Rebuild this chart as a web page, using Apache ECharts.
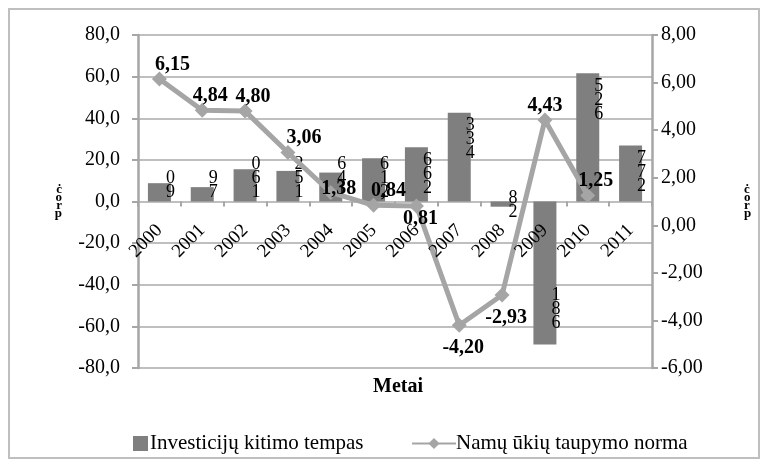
<!DOCTYPE html>
<html>
<head>
<meta charset="utf-8">
<script src="https://cdn.jsdelivr.net/npm/echarts@6/dist/echarts.min.js"></script>
<style>
  html, body { margin: 0; padding: 0; background: #fff; }
  #chart { width: 768px; height: 468px; }
</style>
</head>
<body>
<div id="chart"></div>
<script>
// Years on the category axis
const years = ['2000', '2001', '2002', '2003', '2004', '2005', '2006', '2007', '2008', '2009', '2010', '2011'];
// Investment change rate, % (left axis)
const investmentRate = [8.8, 6.9, 15.5, 14.7, 13.9, 20.8, 26.1, 42.7, -2.5, -68.7, 61.6, 26.9];
// Text printed beside each bar
const investmentLabels = ['0\n9', '9\n7', '0\n6\n1', '2\n5\n1', '6\n4\n1', '6\n1\n2', '6\n6\n2', '3\n3\n4', '8\n2', '1\n8\n6', '5\n2\n6', '7\n7\n2'];
// Household saving ratio, % (right axis); no value for 2011
const savingRate = [6.15, 4.84, 4.80, 3.06, 1.38, 0.84, 0.81, -4.20, -2.93, 4.43, 1.25, null];
// Axis ranges
const leftAxis = { min: -80, max: 80, step: 20 };
const rightAxis = { min: -6, max: 8, step: 2 };

const serif = '"Liberation Serif", "Times New Roman", serif';
const barColor = '#7F7F7F';
const lineColor = '#A5A5A5';
const axisGray = '#A6A6A6';
const gridGray = '#BFBFBF';
const procName = 'ċ\no\nr\np';

// Plot box
const gridTop = 35;
const gridBottom = 100;
const plotHeight = 468 - gridTop - gridBottom;
const pxPerUnit = plotHeight / (leftAxis.max - leftAxis.min);
// Lift the category axis from the bottom edge up to the left axis zero
const zeroLift = (0 - leftAxis.min) * pxPerUnit;

const barData = investmentRate.map((v, i) => {
  const h = Math.abs(v) * pxPerUnit;
  let label;
  if (v >= 0) {
    label = h >= 50
      ? { position: 'insideTop', distance: 6 }
      : { position: 'insideBottom', distance: 2 };
  } else {
    label = h >= 50
      ? { position: 'insideBottom', distance: 14 }
      : { position: 'insideTop', distance: -10 };
  }
  label.formatter = investmentLabels[i];
  return { value: v, label };
});

// Saving-ratio labels that sit under their point, and small per-year nudges
const labelBelow = ['2006', '2007', '2008'];
const labelNudge = {
  '2000': [5, 0], '2003': [8, 0], '2004': [0, 11], '2005': [7, 0],
  '2006': [0, -10], '2009': [-8, 0]
};
const lineData = savingRate.map((v, i) => {
  if (v === null) return null;
  const below = labelBelow.indexOf(years[i]) >= 0;
  const n = labelNudge[years[i]] || [0, 0];
  return {
    value: v,
    label: below
      ? { position: 'bottom', distance: 5, offset: [4 + n[0], n[1]] }
      : { position: 'top', distance: -3, offset: [8 + n[0], n[1]] }
  };
});

const fmt = (d) => (v) => v.toFixed(d).replace('.', ',');

const chart = echarts.init(document.getElementById('chart'), null, { renderer: 'canvas' });
chart.setOption({
  animation: false,
  backgroundColor: '#fff',
  textStyle: { fontFamily: serif },
  grid: { left: 138, right: 116, top: gridTop, bottom: gridBottom, containLabel: false },
  title: {
    text: 'Metai',
    left: 393,
    top: 372,
    textAlign: 'center',
    textStyle: { fontFamily: serif, fontSize: 20, fontWeight: 'bold', color: '#000' }
  },
  legend: [
    {
      data: ['Investicijų kitimo tempas'],
      left: 128, top: 428,
      icon: 'rect', itemWidth: 15, itemHeight: 15, itemGap: 0,
      textStyle: { fontFamily: serif, fontSize: 21, color: '#000', padding: [0, 0, 0, -3] }
    },
    {
      data: ['Namų ūkių taupymo norma'],
      left: 406, top: 428,
      itemWidth: 44, itemHeight: 14,
      textStyle: { fontFamily: serif, fontSize: 21, color: '#000', padding: [0, 0, 0, -5] }
    }
  ],
  xAxis: {
    type: 'category',
    data: years,
    boundaryGap: true,
    position: 'bottom',
    offset: -zeroLift,
    z: 6,
    axisLine: { show: false, onZero: false },
    axisTick: { show: true, length: 5, lineStyle: { color: axisGray, width: 2 } },
    axisLabel: { rotate: 45, margin: 26, fontFamily: serif, fontSize: 19, color: '#000' },
    splitLine: { show: false }
  },
  yAxis: [
    {
      type: 'value',
      min: leftAxis.min, max: leftAxis.max, interval: leftAxis.step,
      name: procName,
      nameLocation: 'middle',
      nameRotate: 0,
      nameGap: 76,
      nameTextStyle: { fontFamily: serif, fontSize: 13, fontWeight: 'bold', lineHeight: 8, color: '#000' },
      axisLine: { show: true, lineStyle: { color: axisGray, width: 2.5 } },
      axisTick: { show: true, length: 6, lineStyle: { color: axisGray, width: 2 } },
      axisLabel: { formatter: fmt(1), margin: 18, fontFamily: serif, fontSize: 20, color: '#000' },
      splitLine: { show: true, lineStyle: { color: gridGray, width: 2 } }
    },
    {
      type: 'value',
      min: rightAxis.min, max: rightAxis.max, interval: rightAxis.step,
      name: procName,
      nameLocation: 'middle',
      nameRotate: 0,
      nameGap: 92,
      nameTextStyle: { fontFamily: serif, fontSize: 13, fontWeight: 'bold', lineHeight: 8, color: '#000' },
      axisLine: { show: true, lineStyle: { color: axisGray, width: 2.5 } },
      axisTick: { show: true, length: 6, lineStyle: { color: axisGray, width: 2 } },
      axisLabel: { formatter: fmt(2), margin: 9, fontFamily: serif, fontSize: 20, color: '#000' },
      splitLine: { show: false }
    }
  ],
  series: [
    {
      name: 'Investicijų kitimo tempas',
      type: 'bar',
      yAxisIndex: 0,
      data: barData,
      barWidth: 23,
      itemStyle: { color: barColor },
      label: {
        show: true,
        offset: [11, 0],
        fontFamily: serif,
        fontSize: 18,
        lineHeight: 14,
        color: '#000',
        align: 'center'
      },
      z: 2
    },
    {
      name: 'Namų ūkių taupymo norma',
      type: 'line',
      yAxisIndex: 1,
      data: lineData,
      connectNulls: false,
      symbol: 'diamond',
      symbolSize: 15,
      lineStyle: { color: lineColor, width: 5 },
      itemStyle: { color: lineColor },
      label: {
        show: true,
        formatter: (p) => fmt(2)(p.value),
        fontFamily: serif,
        fontSize: 20,
        fontWeight: 'bold',
        color: '#000'
      },
      z: 5
    }
  ],
  graphic: [
    {
      type: 'rect',
      shape: { x: 9, y: 9, width: 750, height: 449 },
      style: { fill: 'none', stroke: gridGray, lineWidth: 2 },
      silent: true
    }
  ]
});
</script>
</body>
</html>
